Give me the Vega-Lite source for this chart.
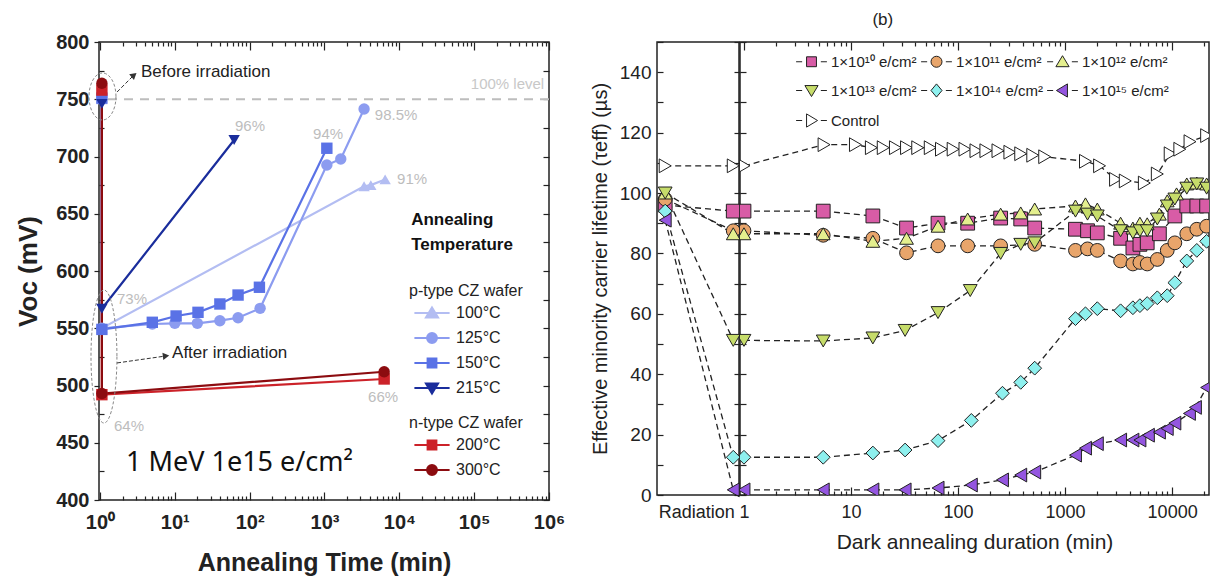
{
"$schema":"https://vega.github.io/schema/vega-lite/v6.json",
"background":"white",
"padding":{"left":14,"top":10,"right":0,"bottom":0},
"config":{"font":"Liberation Sans","view":{"stroke":"#222","strokeWidth":1.5},"axis":{"domain":false,"grid":false,"labelColor":"#222","tickColor":"#222","titleColor":"#222","labelFlush":false,"labelOverlap":false,"tickWidth":1.2}},
"datasets":{
"left":[
{"s":"100°C","k":0,"t":1.06,"v":750},{"s":"100°C","k":1,"t":1.06,"v":550},{"s":"100°C","k":2,"t":3380,"v":674},{"s":"100°C","k":3,"t":4160,"v":675},{"s":"100°C","k":4,"t":6460,"v":680},
{"s":"125°C","k":0,"t":1.06,"v":752},{"s":"125°C","k":1,"t":1.06,"v":550},{"s":"125°C","k":2,"t":5,"v":553.7},{"s":"125°C","k":3,"t":10,"v":554.3},{"s":"125°C","k":4,"t":20,"v":554.3},{"s":"125°C","k":5,"t":40,"v":556.6},{"s":"125°C","k":6,"t":70,"v":559.2},{"s":"125°C","k":7,"t":138,"v":567.4},{"s":"125°C","k":8,"t":1075,"v":692.6},{"s":"125°C","k":9,"t":1650,"v":697.8},{"s":"125°C","k":10,"t":3380,"v":741.5},
{"s":"150°C","k":0,"t":1.06,"v":751},{"s":"150°C","k":1,"t":1.06,"v":549},{"s":"150°C","k":2,"t":5,"v":555.2},{"s":"150°C","k":3,"t":10.4,"v":560.7},{"s":"150°C","k":4,"t":20.4,"v":563.9},{"s":"150°C","k":5,"t":40,"v":571.2},{"s":"150°C","k":6,"t":70,"v":579},{"s":"150°C","k":7,"t":135,"v":585.8},{"s":"150°C","k":8,"t":1075,"v":707.2},
{"s":"215°C","k":0,"t":1.06,"v":746},{"s":"215°C","k":1,"t":1.06,"v":567},{"s":"215°C","k":2,"t":62,"v":714.4},
{"s":"200°C","k":0,"t":1.06,"v":758},{"s":"200°C","k":1,"t":1.06,"v":492},{"s":"200°C","k":2,"t":6270,"v":505.7},
{"s":"300°C","k":0,"t":1.06,"v":764},{"s":"300°C","k":1,"t":1.06,"v":493},{"s":"300°C","k":2,"t":6270,"v":512}
],
"rad":[
{"s":"Control","x":0.1,"v":109},{"s":"Control","x":0.93,"v":109},
{"s":"1×10¹⁰ e/cm²","x":0.1,"v":96},{"s":"1×10¹⁰ e/cm²","x":0.93,"v":94},
{"s":"1×10¹¹ e/cm²","x":0.1,"v":98},{"s":"1×10¹¹ e/cm²","x":0.93,"v":87.5},
{"s":"1×10¹² e/cm²","x":0.1,"v":100},{"s":"1×10¹² e/cm²","x":0.93,"v":86.5},
{"s":"1×10¹³ e/cm²","x":0.1,"v":100},{"s":"1×10¹³ e/cm²","x":0.93,"v":51.2},
{"s":"1×10¹⁴ e/cm²","x":0.1,"v":94},{"s":"1×10¹⁴ e/cm²","x":0.93,"v":12.5},
{"s":"1×10¹⁵ e/cm²","x":0.1,"v":91},{"s":"1×10¹⁵ e/cm²","x":0.93,"v":1.7}
],
"ann":[
{"s":"Control","t":1,"v":109},{"s":"Control","t":5.6,"v":116},{"s":"Control","t":11,"v":116},{"s":"Control","t":15.5,"v":115},{"s":"Control","t":20,"v":115},{"s":"Control","t":26,"v":115},{"s":"Control","t":33,"v":115},{"s":"Control","t":42,"v":115},{"s":"Control","t":55,"v":115},{"s":"Control","t":70,"v":114.5},{"s":"Control","t":90,"v":114.5},{"s":"Control","t":116,"v":114.5},{"s":"Control","t":147,"v":114},{"s":"Control","t":182,"v":114},{"s":"Control","t":236,"v":114},{"s":"Control","t":305,"v":113.5},{"s":"Control","t":385,"v":113},{"s":"Control","t":499,"v":112.5},{"s":"Control","t":645,"v":112},{"s":"Control","t":1550,"v":110.5},{"s":"Control","t":2100,"v":109},{"s":"Control","t":2960,"v":104.5},{"s":"Control","t":3650,"v":104},{"s":"Control","t":5500,"v":103.3},{"s":"Control","t":7270,"v":106.3},{"s":"Control","t":9590,"v":113},{"s":"Control","t":11800,"v":114.5},{"s":"Control","t":14700,"v":117},{"s":"Control","t":21000,"v":119},
{"s":"1×10¹⁰ e/cm²","t":1,"v":94},{"s":"1×10¹⁰ e/cm²","t":5.5,"v":94},{"s":"1×10¹⁰ e/cm²","t":16,"v":92.4},{"s":"1×10¹⁰ e/cm²","t":33,"v":88.4},{"s":"1×10¹⁰ e/cm²","t":65,"v":90},{"s":"1×10¹⁰ e/cm²","t":123,"v":90},{"s":"1×10¹⁰ e/cm²","t":250,"v":91.7},{"s":"1×10¹⁰ e/cm²","t":385,"v":91.4},{"s":"1×10¹⁰ e/cm²","t":520,"v":88.4},{"s":"1×10¹⁰ e/cm²","t":1250,"v":88},{"s":"1×10¹⁰ e/cm²","t":1620,"v":87.5},{"s":"1×10¹⁰ e/cm²","t":2000,"v":86.8},{"s":"1×10¹⁰ e/cm²","t":3300,"v":85},{"s":"1×10¹⁰ e/cm²","t":4300,"v":81.8},{"s":"1×10¹⁰ e/cm²","t":5000,"v":83},{"s":"1×10¹⁰ e/cm²","t":5850,"v":83.5},{"s":"1×10¹⁰ e/cm²","t":7600,"v":86.5},{"s":"1×10¹⁰ e/cm²","t":10600,"v":92.4},{"s":"1×10¹⁰ e/cm²","t":13700,"v":95.7},{"s":"1×10¹⁰ e/cm²","t":17000,"v":95.7},{"s":"1×10¹⁰ e/cm²","t":21000,"v":95.7},
{"s":"1×10¹¹ e/cm²","t":1,"v":87.5},{"s":"1×10¹¹ e/cm²","t":5.5,"v":86},{"s":"1×10¹¹ e/cm²","t":16,"v":85},{"s":"1×10¹¹ e/cm²","t":33,"v":80.2},{"s":"1×10¹¹ e/cm²","t":65,"v":82.5},{"s":"1×10¹¹ e/cm²","t":123,"v":82.5},{"s":"1×10¹¹ e/cm²","t":250,"v":82.5},{"s":"1×10¹¹ e/cm²","t":520,"v":83},{"s":"1×10¹¹ e/cm²","t":1250,"v":81},{"s":"1×10¹¹ e/cm²","t":1620,"v":81.5},{"s":"1×10¹¹ e/cm²","t":2000,"v":81},{"s":"1×10¹¹ e/cm²","t":3300,"v":77.5},{"s":"1×10¹¹ e/cm²","t":4300,"v":76.5},{"s":"1×10¹¹ e/cm²","t":5000,"v":77},{"s":"1×10¹¹ e/cm²","t":5850,"v":76.5},{"s":"1×10¹¹ e/cm²","t":7270,"v":78},{"s":"1×10¹¹ e/cm²","t":9000,"v":81},{"s":"1×10¹¹ e/cm²","t":10600,"v":83.5},{"s":"1×10¹¹ e/cm²","t":13700,"v":86.5},{"s":"1×10¹¹ e/cm²","t":17000,"v":88},{"s":"1×10¹¹ e/cm²","t":21000,"v":89},
{"s":"1×10¹² e/cm²","t":1,"v":86.5},{"s":"1×10¹² e/cm²","t":5.5,"v":86.5},{"s":"1×10¹² e/cm²","t":16,"v":84},{"s":"1×10¹² e/cm²","t":33,"v":85},{"s":"1×10¹² e/cm²","t":65,"v":89},{"s":"1×10¹² e/cm²","t":123,"v":91.4},{"s":"1×10¹² e/cm²","t":250,"v":93},{"s":"1×10¹² e/cm²","t":385,"v":93.4},{"s":"1×10¹² e/cm²","t":520,"v":94.7},{"s":"1×10¹² e/cm²","t":1250,"v":95.7},{"s":"1×10¹² e/cm²","t":1550,"v":96.4},{"s":"1×10¹² e/cm²","t":2000,"v":94.7},{"s":"1×10¹² e/cm²","t":3300,"v":90},{"s":"1×10¹² e/cm²","t":4300,"v":88.4},{"s":"1×10¹² e/cm²","t":5000,"v":90},{"s":"1×10¹² e/cm²","t":5850,"v":89.8},{"s":"1×10¹² e/cm²","t":7600,"v":93},{"s":"1×10¹² e/cm²","t":9000,"v":97.4},{"s":"1×10¹² e/cm²","t":11000,"v":99.7},{"s":"1×10¹² e/cm²","t":13700,"v":103},{"s":"1×10¹² e/cm²","t":17000,"v":103.3},{"s":"1×10¹² e/cm²","t":21000,"v":103},
{"s":"1×10¹³ e/cm²","t":1,"v":51.2},{"s":"1×10¹³ e/cm²","t":5.5,"v":51},{"s":"1×10¹³ e/cm²","t":16,"v":52},{"s":"1×10¹³ e/cm²","t":32,"v":54.5},{"s":"1×10¹³ e/cm²","t":65,"v":60.4},{"s":"1×10¹³ e/cm²","t":130,"v":67.7},{"s":"1×10¹³ e/cm²","t":250,"v":80},{"s":"1×10¹³ e/cm²","t":385,"v":83},{"s":"1×10¹³ e/cm²","t":520,"v":83.5},{"s":"1×10¹³ e/cm²","t":1250,"v":94},{"s":"1×10¹³ e/cm²","t":1620,"v":93},{"s":"1×10¹³ e/cm²","t":2000,"v":92.4},{"s":"1×10¹³ e/cm²","t":3300,"v":87.5},{"s":"1×10¹³ e/cm²","t":4300,"v":86.8},{"s":"1×10¹³ e/cm²","t":5000,"v":87.5},{"s":"1×10¹³ e/cm²","t":5850,"v":87.5},{"s":"1×10¹³ e/cm²","t":7270,"v":91.4},{"s":"1×10¹³ e/cm²","t":9000,"v":95.7},{"s":"1×10¹³ e/cm²","t":10600,"v":98},{"s":"1×10¹³ e/cm²","t":13700,"v":101.6},{"s":"1×10¹³ e/cm²","t":17000,"v":103},{"s":"1×10¹³ e/cm²","t":21000,"v":101.6},
{"s":"1×10¹⁴ e/cm²","t":1,"v":12.5},{"s":"1×10¹⁴ e/cm²","t":5.5,"v":12.5},{"s":"1×10¹⁴ e/cm²","t":16,"v":13.9},{"s":"1×10¹⁴ e/cm²","t":32,"v":14.9},{"s":"1×10¹⁴ e/cm²","t":65,"v":18},{"s":"1×10¹⁴ e/cm²","t":133,"v":24.7},{"s":"1×10¹⁴ e/cm²","t":260,"v":33.7},{"s":"1×10¹⁴ e/cm²","t":385,"v":37.3},{"s":"1×10¹⁴ e/cm²","t":520,"v":42},{"s":"1×10¹⁴ e/cm²","t":1250,"v":58.4},{"s":"1×10¹⁴ e/cm²","t":1550,"v":60},{"s":"1×10¹⁴ e/cm²","t":2000,"v":61.7},{"s":"1×10¹⁴ e/cm²","t":3300,"v":61},{"s":"1×10¹⁴ e/cm²","t":4300,"v":62},{"s":"1×10¹⁴ e/cm²","t":5000,"v":62.7},{"s":"1×10¹⁴ e/cm²","t":5850,"v":63.4},{"s":"1×10¹⁴ e/cm²","t":7270,"v":65.3},{"s":"1×10¹⁴ e/cm²","t":9000,"v":66},{"s":"1×10¹⁴ e/cm²","t":10600,"v":70.3},{"s":"1×10¹⁴ e/cm²","t":13700,"v":77.5},{"s":"1×10¹⁴ e/cm²","t":17000,"v":81},{"s":"1×10¹⁴ e/cm²","t":21000,"v":84},
{"s":"1×10¹⁵ e/cm²","t":1,"v":1.7},{"s":"1×10¹⁵ e/cm²","t":5.5,"v":1.7},{"s":"1×10¹⁵ e/cm²","t":16,"v":1.7},{"s":"1×10¹⁵ e/cm²","t":32,"v":1.7},{"s":"1×10¹⁵ e/cm²","t":65,"v":2.3},{"s":"1×10¹⁵ e/cm²","t":133,"v":3.3},{"s":"1×10¹⁵ e/cm²","t":260,"v":5},{"s":"1×10¹⁵ e/cm²","t":385,"v":6.6},{"s":"1×10¹⁵ e/cm²","t":520,"v":7.6},{"s":"1×10¹⁵ e/cm²","t":1250,"v":13.2},{"s":"1×10¹⁵ e/cm²","t":1550,"v":15.5},{"s":"1×10¹⁵ e/cm²","t":2000,"v":17},{"s":"1×10¹⁵ e/cm²","t":3300,"v":18.2},{"s":"1×10¹⁵ e/cm²","t":4300,"v":18.2},{"s":"1×10¹⁵ e/cm²","t":5000,"v":18.2},{"s":"1×10¹⁵ e/cm²","t":6000,"v":19.8},{"s":"1×10¹⁵ e/cm²","t":7600,"v":20.8},{"s":"1×10¹⁵ e/cm²","t":9000,"v":22},{"s":"1×10¹⁵ e/cm²","t":10600,"v":23.8},{"s":"1×10¹⁵ e/cm²","t":14500,"v":27},{"s":"1×10¹⁵ e/cm²","t":16500,"v":29},{"s":"1×10¹⁵ e/cm²","t":21000,"v":35.6}
]
},
"bounds":"flush",
"spacing":108,
"hconcat":[
{
"width":450,"height":458,
"resolve":{"scale":{"fill":"independent","stroke":"independent","shape":"independent"},"axis":{"x":"independent","y":"independent"}},
"layer":[
{"data":{"values":[{"v":750}]},"mark":{"type":"rule","color":"#bdbdbd","strokeWidth":2,"strokeDash":[9,7]},
 "encoding":{"y":{"field":"v","type":"quantitative","scale":{"domain":[400,800],"nice":false,"zero":false},
  "axis":{"orient":"left","values":[400,450,500,550,600,650,700,750,800],"tickSize":5,"labelPadding":5,"labelFont":"Liberation Sans","labelFontSize":20,"labelFontWeight":"bold","title":"Voc (mV)","titleFont":"Liberation Sans","titleFontSize":26,"titleFontWeight":"bold","titlePadding":14}}}},
{"data":{"name":"left"},"mark":{"type":"line","strokeWidth":2.2},
 "encoding":{
  "x":{"field":"t","type":"quantitative","scale":{"type":"log","domain":[0.97,1000000],"nice":false},
   "axis":{"orient":"bottom","values":[1,10,100,1000,10000,100000,1000000],"labelExpr":"'10' + ['⁰','¹','²','³','⁴','⁵','⁶'][round(log(datum.value)/LN10)]","ticks":false,"labelPadding":12,"labelFont":"Liberation Sans","labelFontSize":20,"labelFontWeight":"bold","title":"Annealing Time (min)","titleFont":"Liberation Sans","titleFontSize":25,"titleFontWeight":"bold","titlePadding":18}},
  "y":{"field":"v","type":"quantitative","scale":{"domain":[400,800],"nice":false,"zero":false},"axis":null},
  "stroke":{"field":"s","type":"nominal","scale":{"domain":["100°C","125°C","150°C","215°C","200°C","300°C"],"range":["#b3bdf2","#8c9cf0","#5a72e6","#1a2d9c","#cc2229","#8c0c10"]},"legend":null},
  "order":{"field":"k","type":"quantitative"}}},
{"data":{"name":"left"},"mark":{"type":"point","filled":true,"opacity":1,"size":130},
 "encoding":{
  "x":{"field":"t","type":"quantitative","scale":{"type":"log","domain":[0.97,1000000],"nice":false},
   "axis":{"orient":"bottom","values":[1,2,3,4,5,6,7,8,9,10,20,30,40,50,60,70,80,90,100,200,300,400,500,600,700,800,900,1000,2000,3000,4000,5000,6000,7000,8000,9000,10000,20000,30000,40000,50000,60000,70000,80000,90000,100000,200000,300000,400000,500000,600000,700000,800000,900000,1000000],"labels":false,"title":null,"tickSize":{"condition":{"test":"abs(log(datum.value)/LN10 - round(log(datum.value)/LN10)) < 0.001","value":-8},"value":-4}}},
  "y":{"field":"v","type":"quantitative","scale":{"domain":[400,800],"nice":false,"zero":false},
   "axis":{"orient":"right","values":[400,425,450,475,500,525,550,575,600,625,650,675,700,725,750,775,800],"labels":false,"title":null,"tickSize":-6}},
  "fill":{"field":"s","type":"nominal","scale":{"domain":["100°C","125°C","150°C","215°C","200°C","300°C"],"range":["#b3bdf2","#8c9cf0","#5a72e6","#1a2d9c","#cc2229","#8c0c10"]},"legend":null},
  "shape":{"field":"s","type":"nominal","scale":{"domain":["100°C","125°C","150°C","215°C","200°C","300°C"],"range":["triangle-up","circle","square","triangle-down","square","circle"]},"legend":null}}},
{"data":{"name":"left"},"transform":[{"filter":"false"}],"mark":{"type":"point","filled":true,"strokeWidth":2},
 "encoding":{
  "fill":{"field":"s","type":"nominal","scale":{"domain":["100°C","125°C","150°C","215°C"],"range":["#b3bdf2","#8c9cf0","#5a72e6","#1a2d9c"]},
   "legend":{"title":"p-type CZ wafer","orient":"none","legendX":310,"legendY":241,"titleFont":"Liberation Sans","titleFontSize":16,"titleFontWeight":"normal","titleColor":"#222","titlePadding":6,"labelFont":"Liberation Sans","labelFontSize":16,"labelColor":"#222","symbolSize":121,"symbolStrokeWidth":2,"symbolOffset":15,"labelOffset":16,"rowPadding":7,"padding":0,"symbolOpacity":1}},
  "stroke":{"field":"s","type":"nominal","scale":{"domain":["100°C","125°C","150°C","215°C"],"range":["#b3bdf2","#8c9cf0","#5a72e6","#1a2d9c"]},
   "legend":{"title":"p-type CZ wafer","orient":"none","legendX":310,"legendY":241,"titleFont":"Liberation Sans","titleFontSize":16,"titleFontWeight":"normal","titleColor":"#222","titlePadding":6,"labelFont":"Liberation Sans","labelFontSize":16,"labelColor":"#222","symbolSize":121,"symbolStrokeWidth":2,"symbolOffset":15,"labelOffset":16,"rowPadding":7,"padding":0,"symbolOpacity":1}},
  "shape":{"field":"s","type":"nominal","scale":{"domain":["100°C","125°C","150°C","215°C"],"range":["M-3.2,0H3.2M0,-1L1.1,0.8L-1.1,0.8Z","M-3.2,0H3.2M0.9,0C0.9,0.5,0.5,0.9,0,0.9C-0.5,0.9,-0.9,0.5,-0.9,0C-0.9,-0.5,-0.5,-0.9,0,-0.9C0.5,-0.9,0.9,-0.5,0.9,0Z","M-3.2,0H3.2M-0.8,-0.8H0.8V0.8H-0.8Z","M-3.2,0H3.2M0,1L1.1,-0.8L-1.1,-0.8Z"]},
   "legend":{"title":"p-type CZ wafer","orient":"none","legendX":310,"legendY":241,"titleFont":"Liberation Sans","titleFontSize":16,"titleFontWeight":"normal","titleColor":"#222","titlePadding":6,"labelFont":"Liberation Sans","labelFontSize":16,"labelColor":"#222","symbolSize":121,"symbolStrokeWidth":2,"symbolOffset":15,"labelOffset":16,"rowPadding":7,"padding":0,"symbolOpacity":1}}}},
{"data":{"name":"left"},"transform":[{"filter":"false"}],"mark":{"type":"point","filled":true,"strokeWidth":2},
 "encoding":{
  "fill":{"field":"s","type":"nominal","scale":{"domain":["200°C","300°C"],"range":["#cc2229","#8c0c10"]},
   "legend":{"title":"n-type CZ wafer","orient":"none","legendX":310,"legendY":373,"titleFont":"Liberation Sans","titleFontSize":16,"titleFontWeight":"normal","titleColor":"#222","titlePadding":6,"labelFont":"Liberation Sans","labelFontSize":16,"labelColor":"#222","symbolSize":121,"symbolStrokeWidth":2,"symbolOffset":15,"labelOffset":16,"rowPadding":7,"padding":0,"symbolOpacity":1}},
  "stroke":{"field":"s","type":"nominal","scale":{"domain":["200°C","300°C"],"range":["#cc2229","#8c0c10"]},
   "legend":{"title":"n-type CZ wafer","orient":"none","legendX":310,"legendY":373,"titleFont":"Liberation Sans","titleFontSize":16,"titleFontWeight":"normal","titleColor":"#222","titlePadding":6,"labelFont":"Liberation Sans","labelFontSize":16,"labelColor":"#222","symbolSize":121,"symbolStrokeWidth":2,"symbolOffset":15,"labelOffset":16,"rowPadding":7,"padding":0,"symbolOpacity":1}},
  "shape":{"field":"s","type":"nominal","scale":{"domain":["200°C","300°C"],"range":["M-3.2,0H3.2M-0.8,-0.8H0.8V0.8H-0.8Z","M-3.2,0H3.2M0.9,0C0.9,0.5,0.5,0.9,0,0.9C-0.5,0.9,-0.9,0.5,-0.9,0C-0.9,-0.5,-0.5,-0.9,0,-0.9C0.5,-0.9,0.9,-0.5,0.9,0Z"]},
   "legend":{"title":"n-type CZ wafer","orient":"none","legendX":310,"legendY":373,"titleFont":"Liberation Sans","titleFontSize":16,"titleFontWeight":"normal","titleColor":"#222","titlePadding":6,"labelFont":"Liberation Sans","labelFontSize":16,"labelColor":"#222","symbolSize":121,"symbolStrokeWidth":2,"symbolOffset":15,"labelOffset":16,"rowPadding":7,"padding":0,"symbolOpacity":1}}}},
{"data":{"values":[{"t":101,"v":726.6,"txt":"96%"},{"t":1117,"v":719.7,"txt":"94%"},{"t":9060,"v":736.2,"txt":"98.5%"},{"t":14830,"v":680.3,"txt":"91%"},{"t":2.68,"v":575.5,"txt":"73%"},{"t":2.44,"v":464.6,"txt":"64%"},{"t":6070,"v":490,"txt":"66%"}]},
 "mark":{"type":"text","color":"#bdbdbd","fontSize":15,"font":"Liberation Sans","align":"center","baseline":"middle"},
 "encoding":{
  "x":{"field":"t","type":"quantitative","scale":{"type":"log","domain":[0.97,1000000],"nice":false},
   "axis":{"orient":"top","values":[1,2,3,4,5,6,7,8,9,10,20,30,40,50,60,70,80,90,100,200,300,400,500,600,700,800,900,1000,2000,3000,4000,5000,6000,7000,8000,9000,10000,20000,30000,40000,50000,60000,70000,80000,90000,100000,200000,300000,400000,500000,600000,700000,800000,900000,1000000],"labels":false,"title":null,"tickSize":{"condition":{"test":"abs(log(datum.value)/LN10 - round(log(datum.value)/LN10)) < 0.001","value":-8},"value":-4}}},
  "y":{"field":"v","type":"quantitative","scale":{"domain":[400,800],"nice":false,"zero":false},
   "axis":{"orient":"left","values":[425,475,525,575,625,675,725,775],"labels":false,"title":null,"tickSize":-5}},
  "text":{"field":"txt"}}},
{"data":{"values":[{"t":863000,"v":763.3,"txt":"100% level"}]},
 "mark":{"type":"text","color":"#c8c8c8","fontSize":15,"font":"Liberation Sans","align":"right","baseline":"middle"},
 "encoding":{"x":{"field":"t","type":"quantitative","scale":{"type":"log","domain":[0.97,1000000],"nice":false},"axis":null},"y":{"field":"v","type":"quantitative","scale":{"domain":[400,800],"nice":false,"zero":false},"axis":null},"text":{"field":"txt"}}},
{"data":{"values":[{"t":3.53,"v":773.8,"txt":"Before irradiation"},{"t":9.18,"v":528.4,"txt":"After irradiation"}]},
 "mark":{"type":"text","color":"#222","fontSize":17,"font":"Liberation Sans","align":"left","baseline":"middle"},
 "encoding":{"x":{"field":"t","type":"quantitative","scale":{"type":"log","domain":[0.97,1000000],"nice":false},"axis":null},"y":{"field":"v","type":"quantitative","scale":{"domain":[400,800],"nice":false,"zero":false},"axis":null},"text":{"field":"txt"}}},
{"data":{"values":[{"t":14390,"v":644.5,"txt":"Annealing"},{"t":14390,"v":622.7,"txt":"Temperature"}]},
 "mark":{"type":"text","color":"#111","fontSize":17,"fontWeight":"bold","font":"Liberation Sans","align":"left","baseline":"middle"},
 "encoding":{"x":{"field":"t","type":"quantitative","scale":{"type":"log","domain":[0.97,1000000],"nice":false},"axis":null},"y":{"field":"v","type":"quantitative","scale":{"domain":[400,800],"nice":false,"zero":false},"axis":null},"text":{"field":"txt"}}},
{"data":{"values":[{"t":2.23,"v":432.3,"txt":"1 MeV 1e15 e/cm²"}]},
 "mark":{"type":"text","color":"#111","fontSize":27,"font":"Noto Sans","align":"left","baseline":"middle"},
 "encoding":{"x":{"field":"t","type":"quantitative","scale":{"type":"log","domain":[0.97,1000000],"nice":false},"axis":null},"y":{"field":"v","type":"quantitative","scale":{"domain":[400,800],"nice":false,"zero":false},"axis":null},"text":{"field":"txt"}}},
{"data":{"values":[{"t":1.08,"v":752.4}]},
 "mark":{"type":"point","filled":false,"color":"#888","strokeWidth":1,"strokeDash":[3,2],"opacity":1,"size":2209,"shape":"M0.574,0C0.574,0.552,0.317,1,0,1C-0.317,1,-0.574,0.552,-0.574,0C-0.574,-0.552,-0.317,-1,0,-1C0.317,-1,0.574,-0.552,0.574,0Z"},
 "encoding":{"x":{"field":"t","type":"quantitative","scale":{"type":"log","domain":[0.97,1000000],"nice":false},"axis":null},"y":{"field":"v","type":"quantitative","scale":{"domain":[400,800],"nice":false,"zero":false},"axis":null}}},
{"data":{"values":[{"t":1.13,"v":525.3}]},
 "mark":{"type":"point","filled":false,"color":"#888","strokeWidth":1,"strokeDash":[3,2],"opacity":1,"size":17689,"shape":"M0.195,0C0.195,0.552,0.108,1,0,1C-0.108,1,-0.195,0.552,-0.195,0C-0.195,-0.552,-0.108,-1,0,-1C0.108,-1,0.195,-0.552,0.195,0Z"},
 "encoding":{"x":{"field":"t","type":"quantitative","scale":{"type":"log","domain":[0.97,1000000],"nice":false},"axis":null},"y":{"field":"v","type":"quantitative","scale":{"domain":[400,800],"nice":false,"zero":false},"axis":null}}},
{"data":{"values":[{"t":1.69,"v":756.3,"t2":2.85,"v2":771.2},{"t":1.69,"v":519.7,"t2":7.63,"v2":525.8}]},
 "mark":{"type":"rule","color":"#333","strokeWidth":1,"strokeDash":[4,2]},
 "encoding":{"x":{"field":"t","type":"quantitative","scale":{"type":"log","domain":[0.97,1000000],"nice":false},"axis":null},"x2":{"field":"t2"},"y":{"field":"v","type":"quantitative","scale":{"domain":[400,800],"nice":false,"zero":false},"axis":null},"y2":{"field":"v2"}}},
{"data":{"values":[{"t":2.85,"v":771.2}]},
 "mark":{"type":"point","shape":"triangle-right","filled":true,"color":"#333","opacity":1,"size":55,"angle":-40},
 "encoding":{"x":{"field":"t","type":"quantitative","scale":{"type":"log","domain":[0.97,1000000],"nice":false},"axis":null},"y":{"field":"v","type":"quantitative","scale":{"domain":[400,800],"nice":false,"zero":false},"axis":null}}},
{"data":{"values":[{"t":7.63,"v":525.8}]},
 "mark":{"type":"point","shape":"triangle-right","filled":true,"color":"#333","opacity":1,"size":55,"angle":-7},
 "encoding":{"x":{"field":"t","type":"quantitative","scale":{"type":"log","domain":[0.97,1000000],"nice":false},"axis":null},"y":{"field":"v","type":"quantitative","scale":{"domain":[400,800],"nice":false,"zero":false},"axis":null}}}
]
},
{
"bounds":"flush",
"spacing":1,
"hconcat":[
{
"width":82,"height":453,
"resolve":{"axis":{"x":"independent","y":"independent"}},
"layer":[
{"data":{"name":"rad"},"mark":{"type":"line","color":"#222","strokeWidth":1.3,"strokeDash":[6,4]},
 "encoding":{
  "x":{"field":"x","type":"quantitative","scale":{"domain":[0,1],"nice":false,"zero":false},
   "axis":{"orient":"bottom","values":[0.48],"labelExpr":"'Radiation'","ticks":false,"labelPadding":8,"labelFont":"Liberation Sans","labelFontSize":18,"title":null}},
  "y":{"field":"v","type":"quantitative","scale":{"domain":[0,150],"nice":false,"zero":false},
   "axis":{"orient":"left","values":[0,20,40,60,80,100,120,140],"ticks":false,"labelPadding":6,"labelFont":"Liberation Sans","labelFontSize":19,"title":"Effective minority carrier lifetime (τeff) (µs)","titleFont":"Liberation Sans","titleFontSize":20,"titleFontWeight":"normal","titlePadding":9}},
  "detail":{"field":"s","type":"nominal"}}},
{"data":{"name":"rad"},"mark":{"type":"point","filled":true,"opacity":1,"stroke":"#222","strokeWidth":1,"size":190},
 "encoding":{
  "x":{"field":"x","type":"quantitative","scale":{"domain":[0,1],"nice":false,"zero":false},"axis":null},
  "y":{"field":"v","type":"quantitative","scale":{"domain":[0,150],"nice":false,"zero":false},
   "axis":{"orient":"left","values":[0,10,20,30,40,50,60,70,80,90,100,110,120,130,140,150],"labels":false,"title":null,"tickSize":-6}},
  "fill":{"field":"s","type":"nominal","scale":{"domain":["1×10¹⁰ e/cm²","1×10¹¹ e/cm²","1×10¹² e/cm²","1×10¹³ e/cm²","1×10¹⁴ e/cm²","1×10¹⁵ e/cm²","Control"],"range":["#d85ca6","#e8a56b","#e4ef8e","#c6dc6a","#8ef0ee","#9456e0","#ffffff"]},"legend":null},
  "shape":{"field":"s","type":"nominal","scale":{"domain":["1×10¹⁰ e/cm²","1×10¹¹ e/cm²","1×10¹² e/cm²","1×10¹³ e/cm²","1×10¹⁴ e/cm²","1×10¹⁵ e/cm²","Control"],"range":["square","circle","triangle-up","triangle-down","diamond","triangle-left","triangle-right"]},"legend":null}}}
]
},
{
"width":469,"height":453,
"title":{"text":"(b)","anchor":"start","dx":139,"fontSize":17,"font":"Liberation Sans","fontWeight":"normal","color":"#222","offset":12},
"resolve":{"scale":{"fill":"independent","shape":"independent","stroke":"independent"},"axis":{"x":"independent","y":"independent"}},
"layer":[
{"data":{"name":"ann"},"mark":{"type":"line","color":"#222","strokeWidth":1.3,"strokeDash":[6,4],"clip":true},
 "encoding":{
  "x":{"field":"t","type":"quantitative","scale":{"type":"log","domain":[0.918,22100],"nice":false},
   "axis":{"orient":"bottom","values":[1,10,100,1000,10000],"labelExpr":"format(datum.value,'d')","ticks":false,"labelPadding":8,"labelFont":"Liberation Sans","labelFontSize":18,"title":"Dark annealing duration (min)","titleFont":"Liberation Sans","titleFontSize":21,"titleFontWeight":"normal","titlePadding":10}},
  "y":{"field":"v","type":"quantitative","scale":{"domain":[0,150],"nice":false,"zero":false},
   "axis":{"orient":"left","values":[0,10,20,30,40,50,60,70,80,90,100,110,120,130,140,150],"labels":false,"title":null,"tickSize":6}},
  "detail":{"field":"s","type":"nominal"}}},
{"data":{"name":"ann"},"mark":{"type":"point","filled":true,"opacity":1,"stroke":"#222","strokeWidth":1,"size":190,"clip":true},
 "encoding":{
  "x":{"field":"t","type":"quantitative","scale":{"type":"log","domain":[0.918,22100],"nice":false},
   "axis":{"orient":"bottom","values":[1,2,3,4,5,6,7,8,9,10,20,30,40,50,60,70,80,90,100,200,300,400,500,600,700,800,900,1000,2000,3000,4000,5000,6000,7000,8000,9000,10000,20000],"labels":false,"title":null,"tickSize":{"condition":{"test":"abs(log(datum.value)/LN10 - round(log(datum.value)/LN10)) < 0.001","value":-8},"value":-4}}},
  "y":{"field":"v","type":"quantitative","scale":{"domain":[0,150],"nice":false,"zero":false},
   "axis":{"orient":"left","values":[0,10,20,30,40,50,60,70,80,90,100,110,120,130,140,150],"labels":false,"title":null,"tickSize":-6}},
  "fill":{"field":"s","type":"nominal","scale":{"domain":["1×10¹⁰ e/cm²","1×10¹¹ e/cm²","1×10¹² e/cm²","1×10¹³ e/cm²","1×10¹⁴ e/cm²","1×10¹⁵ e/cm²","Control"],"range":["#d85ca6","#e8a56b","#e4ef8e","#c6dc6a","#8ef0ee","#9456e0","#ffffff"]},"legend":null},
  "shape":{"field":"s","type":"nominal","scale":{"domain":["1×10¹⁰ e/cm²","1×10¹¹ e/cm²","1×10¹² e/cm²","1×10¹³ e/cm²","1×10¹⁴ e/cm²","1×10¹⁵ e/cm²","Control"],"range":["square","circle","triangle-up","triangle-down","diamond","triangle-left","triangle-right"]},"legend":null}}},
{"data":{"name":"ann"},"transform":[{"filter":"false"}],"mark":{"type":"point","filled":true,"strokeWidth":1},
 "encoding":{
  "x":{"field":"t","type":"quantitative","scale":{"type":"log","domain":[0.918,22100],"nice":false},
   "axis":{"orient":"top","values":[1,2,3,4,5,6,7,8,9,10,20,30,40,50,60,70,80,90,100,200,300,400,500,600,700,800,900,1000,2000,3000,4000,5000,6000,7000,8000,9000,10000,20000],"labels":false,"title":null,"tickSize":{"condition":{"test":"abs(log(datum.value)/LN10 - round(log(datum.value)/LN10)) < 0.001","value":-8},"value":-4}}},
  "fill":{"field":"s","type":"nominal","scale":{"domain":["1×10¹⁰ e/cm²","1×10¹¹ e/cm²","1×10¹² e/cm²","1×10¹³ e/cm²","1×10¹⁴ e/cm²","1×10¹⁵ e/cm²","Control"],"range":["#d85ca6","#e8a56b","#e4ef8e","#c6dc6a","#8ef0ee","#9456e0","#ffffff"]},
   "legend":{"title":null,"orient":"none","direction":"horizontal","legendX":54,"legendY":12,"columns":3,"columnPadding":2,"rowPadding":11,"symbolSize":121,"symbolStrokeWidth":1,"symbolOffset":10,"labelOffset":12,"labelFont":"Liberation Sans","labelFontSize":15,"labelColor":"#222","padding":0,"symbolOpacity":1}},
  "stroke":{"field":"s","type":"nominal","scale":{"domain":["1×10¹⁰ e/cm²","1×10¹¹ e/cm²","1×10¹² e/cm²","1×10¹³ e/cm²","1×10¹⁴ e/cm²","1×10¹⁵ e/cm²","Control"],"range":["#222","#222","#222","#222","#222","#222","#222"]},
   "legend":{"title":null,"orient":"none","direction":"horizontal","legendX":54,"legendY":12,"columns":3,"columnPadding":2,"rowPadding":11,"symbolSize":121,"symbolStrokeWidth":1,"symbolOffset":10,"labelOffset":12,"labelFont":"Liberation Sans","labelFontSize":15,"labelColor":"#222","padding":0,"symbolOpacity":1}},
  "shape":{"field":"s","type":"nominal","scale":{"domain":["1×10¹⁰ e/cm²","1×10¹¹ e/cm²","1×10¹² e/cm²","1×10¹³ e/cm²","1×10¹⁴ e/cm²","1×10¹⁵ e/cm²","Control"],"range":["M-2.8,0H-1.7M1.7,0H2.8M-0.9,-0.9H0.9V0.9H-0.9Z","M-2.8,0H-1.7M1.7,0H2.8M1,0C1,0.552,0.552,1,0,1C-0.552,1,-1,0.552,-1,0C-1,-0.552,-0.552,-1,0,-1C0.552,-1,1,-0.552,1,0Z","M-2.8,0H-1.7M1.7,0H2.8M0,-1.1L1.2,0.9L-1.2,0.9Z","M-2.8,0H-1.7M1.7,0H2.8M0,1.1L1.2,-0.9L-1.2,-0.9Z","M-2.8,0H-1.7M1.7,0H2.8M0,-1.2L1,0L0,1.2L-1,0Z","M-2.8,0H-1.7M1.7,0H2.8M-1.1,0L0.9,-1.2L0.9,1.2Z","M-2.8,0H-1.7M1.7,0H2.8M1.1,0L-0.9,-1.2L-0.9,1.2Z"]},
   "legend":{"title":null,"orient":"none","direction":"horizontal","legendX":54,"legendY":12,"columns":3,"columnPadding":2,"rowPadding":11,"symbolSize":121,"symbolStrokeWidth":1,"symbolOffset":10,"labelOffset":12,"labelFont":"Liberation Sans","labelFontSize":15,"labelColor":"#222","padding":0,"symbolOpacity":1}}}}
]
}
]
}
]
}
